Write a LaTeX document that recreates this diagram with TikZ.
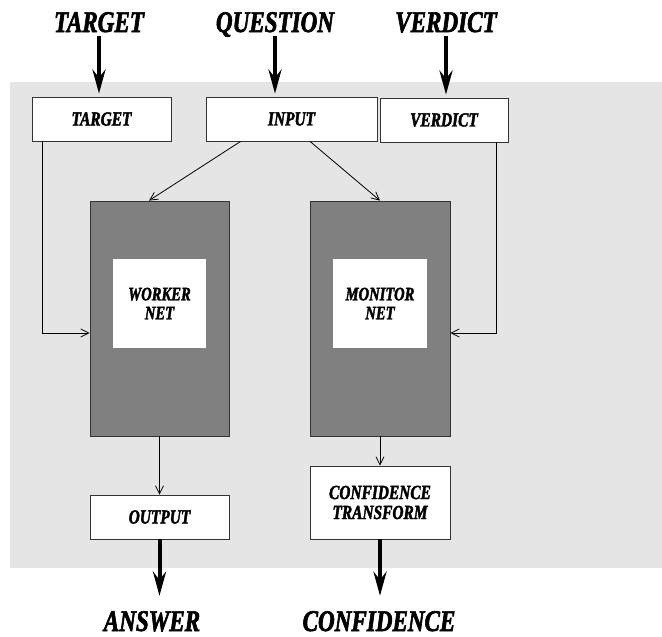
\documentclass[tikz,border=0pt]{standalone}
\usepackage{fontspec}
\newfontfamily\diagfont{Liberation Serif Bold Italic}[FakeStretch=0.77,FakeBold=2]
\usetikzlibrary{arrows.meta,positioning,calc}
\definecolor{panelGray}{HTML}{E5E5E5}
\definecolor{netGray}{HTML}{808080}
\definecolor{edgeGray}{HTML}{333333}
\tikzset{
  biglabel/.style={font=\diagfont\fontsize{30}{30}\selectfont,
                   inner sep=4pt,text height=20pt,text depth=0pt},
  whitebox/.style={draw=edgeGray,fill=white,line width=0.8pt,inner sep=0pt,
                   font=\diagfont\fontsize{20}{20}\selectfont,align=center},
  netbox/.style={draw=edgeGray,fill=netGray,line width=0.8pt,inner sep=0pt},
  netcore/.style={fill=white,inner sep=0pt,
                  font=\diagfont\fontsize{19}{19}\selectfont,align=center},
  thickarrow/.style={line width=4pt,-{Stealth[length=24pt,width=13pt,inset=8pt]}},
  thinarrow/.style={line width=0.8pt,-{Straight Barb[length=8pt,width=8pt]}}
}
\begin{document}
\begin{tikzpicture}[x=1pt,y=-1pt]
\useasboundingbox (0,0) rectangle (662,637);
% shaded panel
\fill[panelGray] (10,82) rectangle (662,568);

% inputs
\node[whitebox,minimum width=139pt,minimum height=44pt] (tgt) at (101.5,119) {TARGET};
\node[whitebox,minimum width=171pt,minimum height=44pt] (inp) at (291.5,119) {INPUT};
\node[whitebox,minimum width=128pt,minimum height=44pt] (vrd) at (444,120) {VERDICT};

% networks
\node[netbox,minimum width=139pt,minimum height=235pt] (wrk) at (159.5,318.5) {};
\node[netbox,minimum width=140pt,minimum height=235pt] (mon) at (380,318.5) {};
\node[netcore,minimum width=93pt,minimum height=89pt] (wrkcore) at (159.5,303.5) {WORKER\\NET};
\node[netcore,minimum width=94pt,minimum height=89pt] (moncore) at (380,303.5) {MONITOR\\NET};

% outputs
\node[whitebox,minimum width=139pt,minimum height=44pt] (out) at (159.5,517) {OUTPUT};
\node[whitebox,minimum width=140pt,minimum height=73pt] (conf) at (380,502.5) {CONFIDENCE\\TRANSFORM};

% outside labels
\node[biglabel] (tgtlbl) at (99,22) {TARGET};
\node[biglabel] (qstlbl) at (275,22) {QUESTION};
\node[biglabel] (vrdlbl) at (446,22) {VERDICT};
\node[biglabel] (anslbl) at (152,621) {ANSWER};
\node[biglabel] (cnflbl) at (379,621) {CONFIDENCE};

% thick in/out arrows
\foreach \lbl/\blk in {tgtlbl/tgt,qstlbl/inp,vrdlbl/vrd}
  \draw[thickarrow,shorten >=3pt] (\lbl.south) -- (\lbl.south |- \blk.north);
\draw[thickarrow,shorten >=11pt] (out.south) -- (out.south |- anslbl.north);
\draw[thickarrow,shorten >=11pt] (conf.south) -- (conf.south |- cnflbl.north);

% thin connectors
\draw[thinarrow] ([xshift=35pt]inp.south west) -- ([xshift=-10.5pt]wrk.north);
\draw[thinarrow] ([xshift=18.5pt]inp.south) -- (mon.north);
\draw[thinarrow] ([xshift=11pt]tgt.south west) |- ([yshift=-14.5pt]wrk.west);
\draw[thinarrow] ([xshift=-12pt]vrd.south east) |- ([yshift=-14.5pt]mon.east);
\draw[thinarrow] (wrk.south) -- (out.north);
\draw[thinarrow] (mon.south) -- (conf.north);
\end{tikzpicture}
\end{document}
